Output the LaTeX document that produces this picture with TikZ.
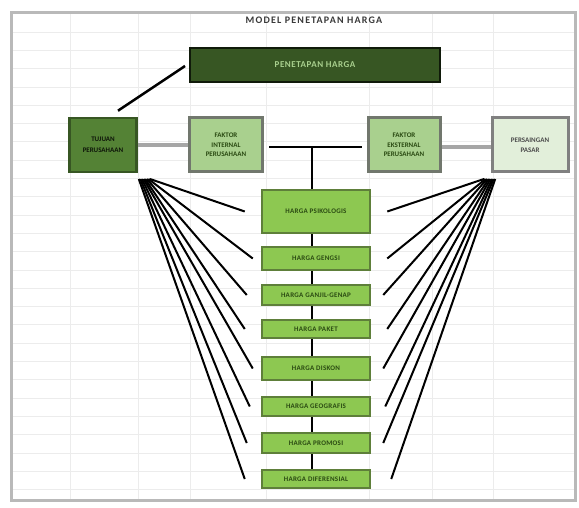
\documentclass[tikz,border=0pt]{standalone}
\usepackage{fontspec}
\setmainfont{Carlito}
\usetikzlibrary{calc}
\definecolor{dkgreen}{HTML}{375623}
\definecolor{mdgreen}{HTML}{548235}
\definecolor{ltgreen}{HTML}{A9D08E}
\definecolor{pagreen}{HTML}{E2EFDA}
\definecolor{brgreen}{HTML}{8DC851}
\definecolor{bdgreen}{HTML}{5E7F3A}
\definecolor{txgreen}{HTML}{2A4A12}
\begin{document}
\begin{tikzpicture}[x=1pt,y=-1pt,
  boxbase/.style={draw, inner sep=1pt, align=center, font=\fontsize{7}{7.5}\selectfont\bfseries, text=txgreen},
  topbox/.style={boxbase, fill=dkgreen, draw=black!70!dkgreen, line width=2pt, text=ltgreen, minimum width=250pt, minimum height=34pt, font=\fontsize{9}{10}\selectfont\bfseries\addfontfeature{LetterSpace=6}},
  darkbox/.style={boxbase, fill=mdgreen, draw=dkgreen, line width=2.5pt, text=black!75!dkgreen},
  lightbox/.style={boxbase, fill=ltgreen, draw=gray!80!dkgreen, line width=3pt},
  palebox/.style={boxbase, fill=pagreen, draw=gray, line width=3pt, text=gray!60!black},
  sidebox/.style={minimum height=54pt},
  stepbox/.style={boxbase, fill=brgreen, draw=bdgreen, line width=2.5pt, minimum width=108pt, font=\fontsize{7}{7.5}\selectfont\bfseries\addfontfeature{LetterSpace=4}},
  grayline/.style={draw=gray!70, line width=3.5pt},
  blackline/.style={draw=black, line width=2.5pt},
  fan/.style={draw=black, line width=2pt},
  gridline/.style={draw=gray!15, line width=0.7pt}
]
\useasboundingbox (0,0) rectangle (579,508);
\fill[white] (0,0) rectangle (579,508);
% spreadsheet grid
\foreach \gx in {70,138,190,266,369,432,493}
  \draw[gridline] (\gx,14) -- (\gx,500);
\foreach \gy in {32,50.3,68.6,86.9,105.2,123.5,141.8,160.1,178.4,196.7,215,233.3,251.6,269.9,288.2,306.5,324.8,343.1,361.4,379.7,398,416.3,434.6,452.9,471.2,489.5}
  \draw[gridline] (11,\gy) -- (575,\gy);
% frame
\draw[gray!55, line width=3pt] (11,13) rectangle (575,500);
% title
\node[font=\fontsize{10}{11}\selectfont\bfseries\addfontfeature{LetterSpace=12}, text=gray!45!black] (title) at (314,20) {MODEL PENETAPAN HARGA};
% top box
\node[topbox] (top) at (315,65) {PENETAPAN HARGA};
% row of boxes
\node[darkbox, sidebox, minimum width=67pt] (A) at (103,145) {TUJUAN\\[3pt]PERUSAHAAN};
\node[lightbox, sidebox, minimum width=73pt] (B) at (226,145) {FAKTOR\\[2pt]INTERNAL\\[2pt]PERUSAHAAN};
\node[lightbox, sidebox, minimum width=72pt] (C) at (404,145) {FAKTOR\\[2pt]EKSTERNAL\\[2pt]PERUSAHAAN};
\node[palebox, sidebox, minimum width=76pt] (D) at (530,145) {PERSAINGAN\\[3pt]PASAR};
% steps
\node[stepbox, minimum height=43pt] (s1) at (316,211.5) {HARGA PSIKOLOGIS};
\node[stepbox, minimum height=23pt] (s2) at (316,258.5) {HARGA GENGSI};
\node[stepbox, minimum height=20pt] (s3) at (316,295) {HARGA GANJIL-GENAP};
\node[stepbox, minimum height=18pt] (s4) at (316,329) {HARGA PAKET};
\node[stepbox, minimum height=23pt] (s5) at (316,368.5) {HARGA DISKON};
\node[stepbox, minimum height=19pt] (s6) at (316,406.5) {HARGA GEOGRAFIS};
\node[stepbox, minimum height=20pt] (s7) at (316,443) {HARGA PROMOSI};
\node[stepbox, minimum height=18pt] (s8) at (316,479) {HARGA DIFERENSIAL};
% connectors
\draw[blackline] ($(A.north)+(15,-6)$) -- ($(top.west)+(-4,1)$);
\draw[grayline] (A.east) -- (B.west);
\draw[grayline] ($(C.east)+(0,2)$) -- ($(D.west)+(0,2)$);
\coordinate (hub) at (312,147);
\draw[blackline] ($(B.east)+(5,2)$) -- ($(C.west)+(-5,2)$);
\draw[blackline] (hub) -- (s1.north -| hub);
\foreach \a/\b in {s1/s2,s2/s3,s3/s4,s4/s5,s5/s6,s6/s7,s7/s8}
  \draw[blackline] (\a.south -| hub) -- (\b.north -| hub);
% fans
\coordinate (lf) at (150,179);
\coordinate (rf) at (484,179);
\foreach \s/\dx/\k in {s1/-16/0,s2/-8/1,s3/-14/2,s4/-16/3,s5/-8/4,s6/-11/5,s7/-14/6,s8/-16/7} {
  \coordinate (le\s) at ($(\s.west)+(\dx,0)$);
  \draw[fan] ($(lf)+(-\k*1.6,0)$) -- (le\s);
}
\foreach \s/\dx/\k in {s1/16/0,s2/16/1,s3/12/2,s4/16/3,s5/12/4,s6/14/5,s7/12/6,s8/20/7} {
  \coordinate (re\s) at ($(\s.east)+(\dx,0)$);
  \draw[fan] ($(rf)+(\k*1.6,0)$) -- (re\s);
}
\end{tikzpicture}
\end{document}
